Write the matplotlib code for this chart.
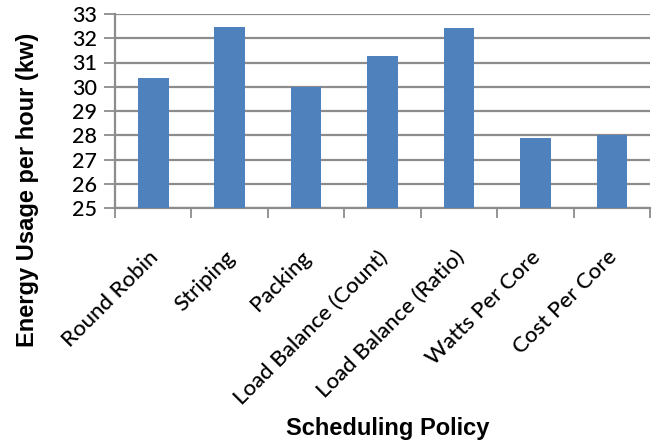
import matplotlib
matplotlib.use("Agg")
import matplotlib.pyplot as plt
import matplotlib.transforms as mtransforms
import numpy as np

# scheduling policies and measured energy usage (kW per hour)
policies = ["Round Robin", "Striping", "Packing", "Load Balance (Count)",
            "Load Balance (Ratio)", "Watts Per Core", "Cost Per Core"]
energy = [30.35, 32.47, 30.0, 31.25, 32.42, 27.88, 28.03]

yticks = list(range(25, 34))

BAR_COLOR = "#4F81BD"
GRID_COLOR = "#8C8C8C"

fig = plt.figure(figsize=(6.56, 4.41), dpi=100)
ax = fig.add_axes([115 / 656, 1 - 208 / 441, 535 / 656, 194 / 441])

x = np.arange(len(policies))
ax.bar(x, energy, width=0.4, color=BAR_COLOR, zorder=3)

ax.set_xlim(-0.5, len(policies) - 0.5)
ax.set_ylim(yticks[0], yticks[-1])

#: y axis
ax.set_yticks(yticks)
ax.set_yticklabels([str(v) for v in yticks], family="Lato", fontsize=15.5,
                   fontweight="medium")
ax.yaxis.grid(True, color=GRID_COLOR, linewidth=1.6, zorder=0)
ax.tick_params(axis="y", direction="out", length=8, width=1.3,
               color=GRID_COLOR, pad=5)

#: x axis: ticks between categories, labels on the categories
ax.set_xticks(np.arange(len(policies) + 1) - 0.5)
ax.set_xticklabels([])
ax.tick_params(axis="x", which="major", direction="out", length=7,
               width=1.3, color=GRID_COLOR)
ax.set_xticks(x, minor=True)
ax.set_xticklabels(policies, minor=True, rotation=45, ha="right",
                   family="Lato", fontsize=16, fontweight="medium")
ax.tick_params(axis="x", which="minor", length=0, pad=28)

shift = mtransforms.ScaledTranslation(9 / 100, 0, fig.dpi_scale_trans)
for lbl in ax.get_xticklabels(minor=True):
    lbl.set_transform(lbl.get_transform() + shift)

for side in ("top", "right"):
    ax.spines[side].set_visible(False)
for side in ("left", "bottom"):
    ax.spines[side].set_color(GRID_COLOR)
    ax.spines[side].set_linewidth(1.6)

fig.text(28 / 656, 1 - 190 / 441, "Energy Usage per hour (kw)", rotation=90,
         ha="center", va="center", family="Liberation Sans",
         fontweight="bold", fontsize=17)
fig.text(388 / 656, 1 - 429 / 441, "Scheduling Policy", ha="center",
         va="center", family="Liberation Sans", fontweight="bold",
         fontsize=17)

fig.savefig("out.png", dpi=100)
